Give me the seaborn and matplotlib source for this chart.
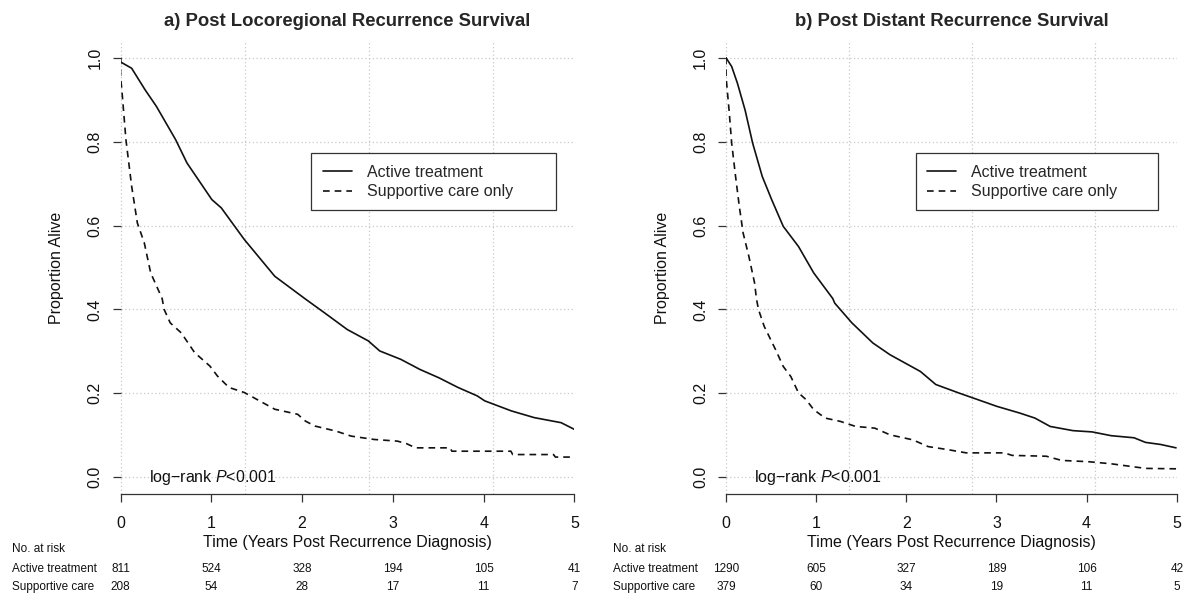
import numpy as np
import pandas as pd
import matplotlib
matplotlib.use("Agg")
import matplotlib.pyplot as plt
import matplotlib.transforms as mtransforms
from matplotlib.lines import Line2D
import seaborn as sns

sns.set_theme(style="white")
plt.rcParams["font.family"] = ["Liberation Sans", "DejaVu Sans"]
plt.rcParams["mathtext.fontset"] = "custom"
plt.rcParams["mathtext.it"] = "Liberation Sans:italic"
plt.rcParams["mathtext.rm"] = "Liberation Sans"

# ---- data ----
panel_titles = ["a) Post Locoregional Recurrence Survival",
                "b) Post Distant Recurrence Survival"]
groups = ["Active treatment", "Supportive care only"]
risk_rows = ["Active treatment", "Supportive care"]
risk_times = [0, 1, 2, 3, 4, 5]
x_ticks = [0, 1, 2, 3, 4, 5]
y_ticks = [0.0, 0.2, 0.4, 0.6, 0.8, 1.0]
y_tick_labels = ["0.0", "0.2", "0.4", "0.6", "0.8", "1.0"]
grid_x = [0, 1.366, 2.732, 4.098]

# panel a: locoregional
a_active_t = [0, 0, 0.122, 0.269, 0.395, 0.606, 0.732, 1.005, 1.11, 1.362,
              1.699, 2.035, 2.246, 2.498, 2.729, 2.855, 3.087, 3.297, 3.507,
              3.717, 3.928, 4.012, 4.306, 4.558, 4.853, 5.0]
a_active_s = [1.0, 0.99, 0.975, 0.924, 0.884, 0.805, 0.749, 0.662, 0.642, 0.567,
              0.479, 0.425, 0.392, 0.352, 0.325, 0.301, 0.281, 0.257, 0.237,
              0.214, 0.194, 0.182, 0.158, 0.142, 0.130, 0.114]
a_supp_t = [0, 0, 0.017, 0.059, 0.122, 0.185, 0.261, 0.332, 0.458, 0.48, 0.547,
            0.669, 0.816, 0.984, 1.068, 1.194, 1.362, 1.531, 1.699, 1.951,
            2.035, 2.14, 2.372, 2.54, 2.792, 3.05, 3.15, 3.25, 3.63, 3.65,
            4.30, 4.32, 4.77, 4.79, 5.0]
a_supp_s = [1.0, 0.955, 0.916, 0.805, 0.694, 0.606, 0.559, 0.487, 0.426, 0.40,
            0.368, 0.344, 0.297, 0.265, 0.241, 0.214, 0.202, 0.182, 0.162,
            0.150, 0.134, 0.122, 0.110, 0.098, 0.090, 0.086, 0.080, 0.070,
            0.070, 0.062, 0.062, 0.054, 0.054, 0.048, 0.048]
a_risk_active = [811, 524, 328, 194, 105, 41]
a_risk_supp = [208, 54, 28, 17, 11, 7]

# panel b: distant
b_active_t = [0, 0.063, 0.127, 0.212, 0.296, 0.402, 0.508, 0.635, 0.804, 0.973,
              1.184, 1.206, 1.396, 1.629, 1.819, 1.988, 2.157, 2.327, 2.58,
              2.792, 3.003, 3.257, 3.426, 3.596, 3.849, 4.061, 4.272, 4.526,
              4.653, 4.822, 4.992]
b_active_s = [1.0, 0.979, 0.939, 0.875, 0.796, 0.717, 0.661, 0.598, 0.55, 0.487,
              0.426, 0.415, 0.368, 0.320, 0.292, 0.272, 0.252, 0.221, 0.201,
              0.185, 0.169, 0.153, 0.141, 0.121, 0.111, 0.108, 0.099, 0.094,
              0.083, 0.078, 0.070]
b_supp_t = [0, 0, 0.034, 0.063, 0.106, 0.148, 0.19, 0.254, 0.317, 0.338, 0.36,
            0.423, 0.55, 0.635, 0.719, 0.804, 0.888, 0.973, 1.10, 1.269, 1.438,
            1.65, 1.819, 2.073, 2.242, 2.453, 2.665, 3.088, 3.173, 3.553,
            3.723, 4.019, 4.272, 4.653, 4.992]
b_supp_s = [1.0, 0.955, 0.875, 0.796, 0.717, 0.645, 0.582, 0.526, 0.463, 0.425,
            0.40, 0.36, 0.304, 0.264, 0.24, 0.201, 0.185, 0.161, 0.141, 0.133,
            0.121, 0.117, 0.101, 0.089, 0.073, 0.066, 0.058, 0.058, 0.052,
            0.050, 0.040, 0.037, 0.032, 0.021, 0.020]
b_risk_active = [1290, 605, 327, 189, 106, 42]
b_risk_supp = [379, 60, 34, 19, 11, 5]

panels = [
    (a_active_t, a_active_s, a_supp_t, a_supp_s, a_risk_active, a_risk_supp),
    (b_active_t, b_active_s, b_supp_t, b_supp_s, b_risk_active, b_risk_supp),
]

line_col = "#111111"
axis_col = "#333333"
grid_col = "#c8c8c8"
dash = (4, 3)
fs = 11.5

fig = plt.figure(figsize=(12.02, 6.0), dpi=100)
ax_rects = [[0.1003, 0.1767, 0.3776, 0.755], [0.604, 0.1767, 0.375, 0.755]]
label_x = [0.0096, 0.51]
row_y = [0.085, 0.0517, 0.0217]

for i, (ta, sa, ts, ss, ra, rs) in enumerate(panels):
    ax = fig.add_axes(ax_rects[i])
    df = pd.concat([
        pd.DataFrame({"t": ta, "s": sa, "group": groups[0]}),
        pd.DataFrame({"t": ts, "s": ss, "group": groups[1]}),
    ], ignore_index=True)
    sns.lineplot(data=df, x="t", y="s", style="group", style_order=groups,
                 dashes={groups[0]: "", groups[1]: dash}, color=line_col,
                 linewidth=1.2, estimator=None, sort=False, legend=False,
                 ax=ax, zorder=3)

    # dotted grid
    for y in y_ticks:
        ax.axhline(y, color=grid_col, lw=0.9, ls=(0, (1, 2)), zorder=0)
    for x in grid_x:
        ax.axvline(x, color=grid_col, lw=0.9, ls=(0, (1, 2)), zorder=0,
                   clip_on=False)

    ax.set_xlim(0, 5)
    ax.set_ylim(-0.04, 1.04)
    ax.set_xticks(x_ticks)
    ax.set_xticklabels([str(v) for v in x_ticks])
    ax.set_yticks(y_ticks)
    ax.set_yticklabels(y_tick_labels)
    for sp in ["top", "right", "left"]:
        ax.spines[sp].set_visible(False)
    ax.spines["bottom"].set_color(axis_col)
    ax.spines["bottom"].set_linewidth(0.9)
    ax.tick_params(axis="both", direction="out", length=6, width=0.9,
                   color=axis_col, labelsize=fs, labelcolor="#111111")
    ax.tick_params(axis="x", pad=10, bottom=True)
    ax.tick_params(axis="y", pad=7, left=True, labelrotation=90)
    for lab in ax.get_yticklabels():
        lab.set_va("center")

    ax.set_title(panel_titles[i], fontsize=13.3, fontweight="bold", pad=11)
    ax.set_xlabel("Time (Years Post Recurrence Diagnosis)", fontsize=fs,
                  color="#111111")
    ax.xaxis.set_label_coords(0.5, -0.09)
    ax.set_ylabel("Proportion Alive", fontsize=fs, color="#111111")
    ax.yaxis.set_label_coords(-0.125, 0.5)

    ax.text(0.31, 0.0, "log\u2212rank $P$<0.001", fontsize=fs, ha="left",
            va="center", color="#111111")

    handles = [Line2D([], [], color=line_col, lw=1.2, ls="-"),
               Line2D([], [], color=line_col, lw=1.2, ls=(0, dash))]
    leg = ax.legend(handles, groups, loc="upper left",
                    bbox_to_anchor=(0.4205, 0.627, 0.538, 0.125), mode="expand",
                    borderaxespad=0, fancybox=False, edgecolor=axis_col,
                    framealpha=1, fontsize=fs, handlelength=1.85,
                    handletextpad=0.9, borderpad=0.7, labelspacing=0.3)
    leg.get_frame().set_linewidth(0.9)

    # number at risk table
    trans = mtransforms.blended_transform_factory(ax.transData, fig.transFigure)
    fig.text(label_x[i], row_y[0], "No. at risk", fontsize=8.5, va="center",
             color="#111111")
    fig.text(label_x[i], row_y[1], risk_rows[0], fontsize=8.5, va="center",
             color="#111111")
    fig.text(label_x[i], row_y[2], risk_rows[1], fontsize=8.5, va="center",
             color="#111111")
    for t, n1, n2 in zip(risk_times, ra, rs):
        ax.text(t, row_y[1], str(n1), transform=trans, fontsize=8.5,
                ha="center", va="center", color="#111111")
        ax.text(t, row_y[2], str(n2), transform=trans, fontsize=8.5,
                ha="center", va="center", color="#111111")

fig.savefig("out.png", dpi=100, facecolor="white")
